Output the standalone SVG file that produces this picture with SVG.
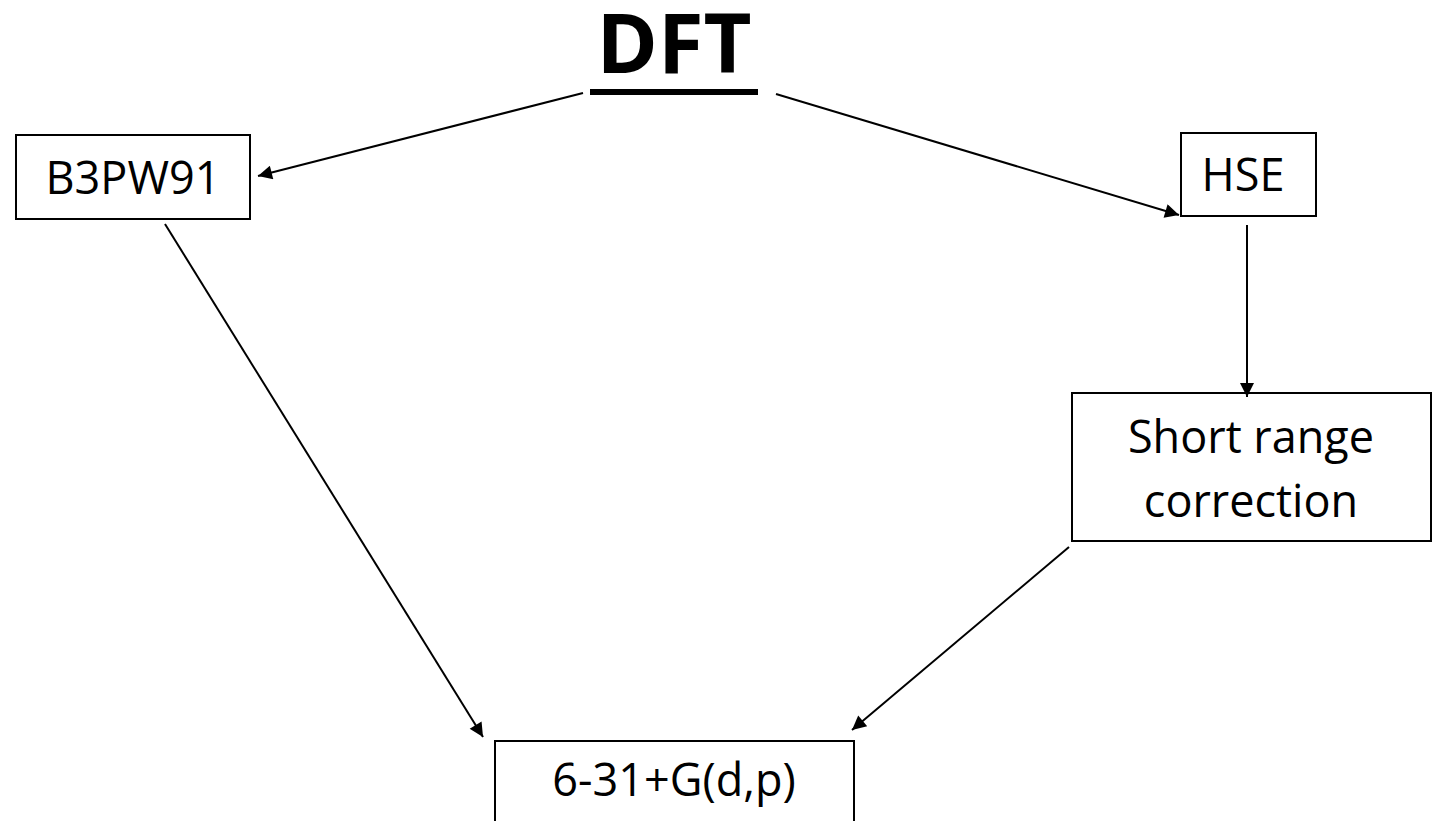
<svg xmlns="http://www.w3.org/2000/svg" width="1440" height="821" viewBox="0 0 1440 821">
<style>
.box{fill:#fff;stroke:#000;stroke-width:2}
.lbl{font-family:"Open Sans","Noto Sans",sans-serif;font-size:45px;fill:#000;text-anchor:middle}
.edge{stroke:#000;stroke-width:2;fill:none;marker-end:url(#ah)}
</style>
<defs>
<marker id="ah" viewBox="0 0 10 10" refX="10" refY="5" markerWidth="9" markerHeight="7" markerUnits="strokeWidth" orient="auto">
<path d="M0,0 L10,5 L0,10 z" fill="#000"/>
</marker>
</defs>
<rect width="1440" height="821" fill="#fff"/>
<g id="dft">
<text x="674" y="73" style="font-family:'Open Sans','Noto Sans',sans-serif;font-size:83px;font-weight:bold;text-anchor:middle">DFT</text>
<rect x="590" y="89" width="168" height="6" fill="#000"/>
</g>
<g id="b3pw91">
<rect class="box" x="16" y="135" width="234" height="84"/>
<text class="lbl" x="133" y="194">B3PW91</text>
</g>
<g id="hse">
<rect class="box" x="1181" y="133" width="135" height="83"/>
<text class="lbl" x="1243" y="191">HSE</text>
</g>
<g id="short">
<rect class="box" x="1072" y="393" width="359" height="148"/>
<text class="lbl" x="1251" y="453">Short range</text>
<text class="lbl" x="1251" y="517">correction</text>
</g>
<g id="basis">
<rect class="box" x="495" y="741" width="359" height="100"/>
<text class="lbl" x="674" y="796">6-31+G(d,p)</text>
</g>
<g id="connectors">
<line class="edge" x1="583" y1="93" x2="258" y2="176"/>
<line class="edge" x1="776" y1="94" x2="1179" y2="215"/>
<line class="edge" x1="1247" y1="225" x2="1247" y2="397"/>
<line class="edge" x1="165" y1="224" x2="483" y2="737"/>
<line class="edge" x1="1069" y1="547" x2="852" y2="730"/>
</g>
</svg>
